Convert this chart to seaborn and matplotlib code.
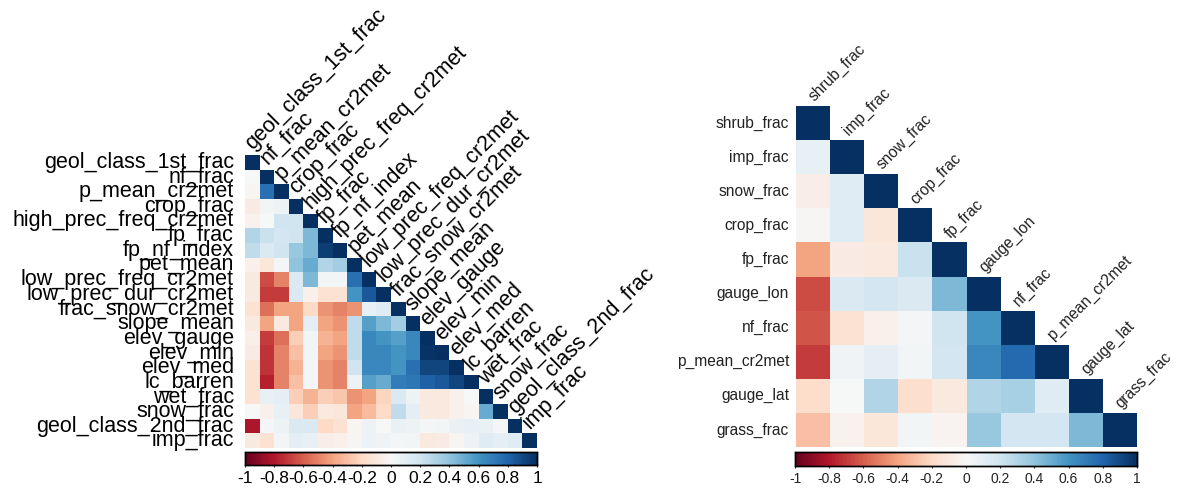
import numpy as np
import pandas as pd
import matplotlib
matplotlib.use("Agg")
import matplotlib.pyplot as plt
import seaborn as sns

# left matrix: variable names and lower-triangle correlations (row by row)
left_vars = ["geol_class_1st_frac", "nf_frac", "p_mean_cr2met", "crop_frac",
             "high_prec_freq_cr2met", "fp_frac", "fp_nf_index", "pet_mean",
             "low_prec_freq_cr2met", "low_prec_dur_cr2met", "frac_snow_cr2met",
             "slope_mean", "elev_gauge", "elev_min", "elev_med", "lc_barren",
             "wet_frac", "snow_frac", "geol_class_2nd_frac", "imp_frac"]
left_lower = [
    [],
    [0.0],
    [-0.02, 0.75],
    [-0.08, 0.03, 0.05],
    [-0.04, 0.0, 0.2, 0.2],
    [0.3, 0.22, 0.18, 0.2, 0.45],
    [0.25, 0.15, 0.2, 0.38, 0.45, 0.95],
    [-0.05, -0.12, 0.02, 0.4, 0.5, 0.3, 0.35],
    [-0.1, -0.65, -0.5, 0.15, 0.45, 0.03, 0.03, 0.75],
    [-0.1, -0.7, -0.7, 0.15, -0.05, -0.15, -0.15, 0.6, 0.85],
    [-0.15, -0.55, -0.4, -0.4, -0.2, -0.45, -0.5, -0.45, 0.08, 0.12],
    [-0.1, -0.4, -0.1, -0.4, 0.1, -0.4, -0.45, 0.25, 0.55, 0.45, 0.35],
    [-0.06, -0.7, -0.55, -0.25, 0.03, -0.35, -0.4, 0.25, 0.65, 0.6, 0.55, 0.65],
    [-0.08, -0.72, -0.5, -0.3, 0.03, -0.4, -0.45, 0.25, 0.65, 0.65, 0.6, 0.65, 0.98],
    [-0.15, -0.72, -0.5, -0.35, 0.02, -0.45, -0.5, 0.2, 0.65, 0.65, 0.6, 0.75, 0.92, 0.92],
    [-0.15, -0.78, -0.5, -0.3, 0.02, -0.45, -0.5, 0.05, 0.55, 0.5, 0.7, 0.72, 0.82, 0.85, 0.92],
    [-0.15, 0.08, 0.1, -0.25, -0.35, -0.25, -0.28, -0.45, -0.4, -0.22, 0.15, 0.05, -0.1, -0.1, -0.05, 0.0],
    [0.0, -0.05, 0.08, -0.12, -0.25, -0.1, -0.12, -0.4, -0.32, -0.2, 0.25, 0.1, -0.1, -0.1, -0.05, -0.02, 0.5],
    [-0.82, 0.02, 0.05, 0.15, 0.15, -0.2, -0.15, -0.02, 0.05, 0.0, 0.07, 0.05, 0.02, 0.03, 0.07, 0.08, 0.07, 0.02],
    [-0.1, -0.15, 0.03, 0.1, 0.08, -0.07, -0.05, -0.01, 0.06, 0.04, 0.02, 0.03, -0.1, -0.08, -0.02, 0.06, 0.12, 0.1, 0.12],
]

# right matrix
right_vars = ["shrub_frac", "imp_frac", "snow_frac", "crop_frac", "fp_frac",
              "gauge_lon", "nf_frac", "p_mean_cr2met", "gauge_lat", "grass_frac"]
right_lower = [
    [],
    [0.08],
    [-0.07, 0.12],
    [-0.01, 0.12, -0.12],
    [-0.4, -0.08, -0.1, 0.22],
    [-0.65, 0.15, 0.18, 0.15, 0.45],
    [-0.63, -0.15, -0.05, 0.02, 0.2, 0.6],
    [-0.7, 0.04, 0.1, 0.03, 0.18, 0.65, 0.78],
    [-0.18, 0.0, 0.3, -0.17, -0.1, 0.3, 0.33, 0.12],
    [-0.3, -0.04, -0.12, 0.03, -0.03, 0.38, 0.18, 0.18, 0.45],
]

cbar_ticks = [-1, -0.8, -0.6, -0.4, -0.2, 0, 0.2, 0.4, 0.6, 0.8, 1]


def build_corr(names, lower):
    n = len(names)
    m = np.eye(n)
    for i, row in enumerate(lower):
        for j, v in enumerate(row):
            m[i, j] = v
            m[j, i] = v
    return pd.DataFrame(m, index=names, columns=names)


def draw_corr(fig, rect, cbar_rect, df, label_size, tick_size, pad, text_col, dx):
    ax = fig.add_axes(rect)
    cax = fig.add_axes(cbar_rect)
    mask = np.triu(np.ones(df.shape, dtype=bool), k=1)
    sns.heatmap(df, mask=mask, cmap="RdBu", vmin=-1, vmax=1, ax=ax,
                cbar_ax=cax, cbar_kws={"orientation": "horizontal", "ticks": cbar_ticks},
                xticklabels=False, yticklabels=True, square=False)
    ax.set_xlabel("")
    ax.set_ylabel("")
    ax.tick_params(axis="y", length=0, pad=pad, labelsize=label_size, labelcolor=text_col)
    for lab in ax.get_yticklabels():
        lab.set_rotation(0)
    # diagonal column labels
    for j, name in enumerate(df.columns):
        ax.text(j + dx, j - 0.05, name, rotation=45, rotation_mode="anchor",
                ha="left", va="bottom", fontsize=label_size, color=text_col,
                clip_on=False)
    cax.set_xticklabels([f"{t:g}" for t in cbar_ticks])
    cax.tick_params(axis="x", labelsize=tick_size, length=3, direction="inout",
                    pad=3, labelcolor=text_col)
    for sp in cax.spines.values():
        sp.set_visible(True)
        sp.set_color("black")
        sp.set_linewidth(1)
    return ax


sns.set_style("white")
plt.rcParams["font.family"] = ["Liberation Sans", "DejaVu Sans"]

fig = plt.figure(figsize=(11.79, 4.9), dpi=100)

W, H = 1179.0, 490.0


def frac_rect(x0, y0, x1, y1):
    return [x0 / W, (H - y1) / H, (x1 - x0) / W, (y1 - y0) / H]


draw_corr(fig, frac_rect(245, 155, 537, 448), frac_rect(245, 452, 537, 465),
          build_corr(left_vars, left_lower), 15.5, 12.5, 8, "black", 0.75)
draw_corr(fig, frac_rect(796, 106, 1137, 447), frac_rect(795, 452, 1137, 466),
          build_corr(right_vars, right_lower), 11.2, 10, 5, "#222222", 0.6)

fig.savefig("out.png", dpi=100)
